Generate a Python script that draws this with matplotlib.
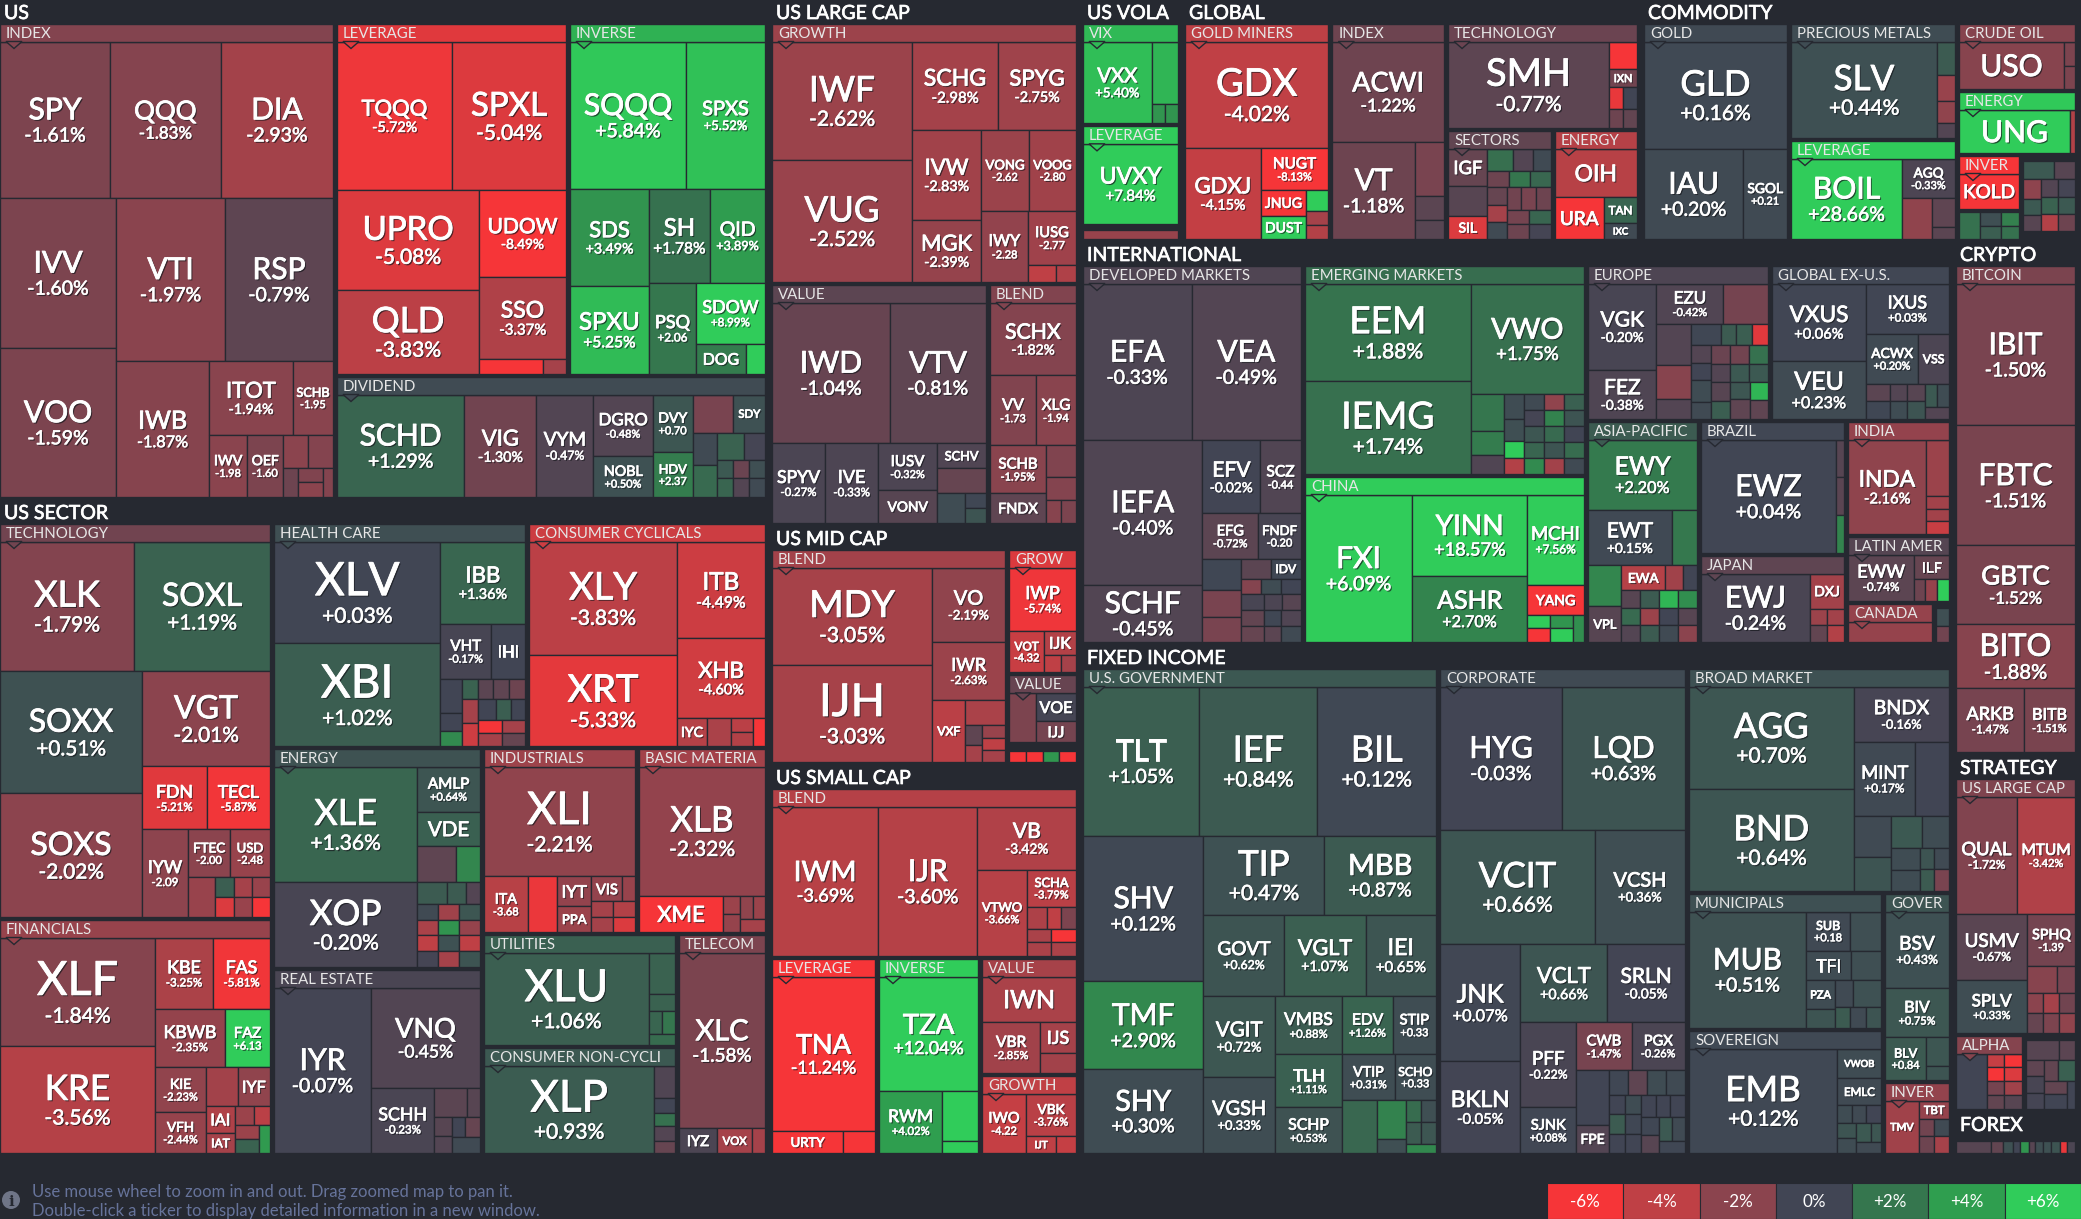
# -*- coding: utf-8 -*-
"""ETF map: nested treemap, cells laid out with squarify from their sizes."""
import numpy as np
import matplotlib
matplotlib.use('Agg')
import matplotlib.pyplot as plt
from matplotlib.font_manager import FontProperties
from matplotlib.patches import Rectangle, Polygon, Circle
from matplotlib.textpath import TextPath
import matplotlib.patheffects as pe

BG = '#262931'
FONT = 'Lato'

# T = tickers, S = size of the fund on the map, C = change in percent
US_INDEX_T = ['SPY', 'QQQ', 'DIA', 'IVV', 'VOO', 'VTI', 'RSP', 'IWB', 'ITOT', 'SCHB', 'IWV', 'OEF'] + [''] * 6
US_INDEX_S = [17160, 17300, 17500, 17400, 17280, 17770, 17600, 12650, 6200, 2960, 2360, 2230, 825, 825, 430, 350, 370, 300]
US_INDEX_C = [-1.61, -1.83, -2.93, -1.60, -1.59, -1.97, -0.79, -1.87, -1.94, -1.95, -1.98, -1.60, -2.0, -1.8, -1.2, -1.7, -2.0, -1.8]
US_LEV_T = ['TQQQ', 'SPXL', 'UPRO', 'QLD', 'UDOW', 'SSO', '', '']
US_LEV_S = [17020, 16870, 14060, 11930, 7480, 7130, 960, 345]
US_LEV_C = [-5.72, -5.04, -5.08, -3.83, -8.49, -3.37, -6.5, -3.0]
US_INV_T = ['SQQQ', 'SPXS', 'SDS', 'SPXU', 'SH', 'QID', 'PSQ', 'SDOW', 'DOG', '']
US_INV_S = [17050, 11600, 7580, 6950, 5670, 5115, 4280, 4210, 1500, 570]
US_INV_C = [5.84, 5.52, 3.49, 5.25, 1.78, 3.89, 2.06, 8.99, 2.3, 7.0]
US_DIV_T = ['SCHD', 'VIG', 'VYM', 'DGRO', 'NOBL', 'DVY', 'HDV', '', 'SDY'] + [''] * 10
US_DIV_S = [13080, 7416, 5870, 3660, 2420, 2320, 1800, 1560, 1216, 790, 770, 730, 570, 300, 300, 300, 300, 300, 300]
US_DIV_C = [1.29, -1.30, -0.47, -0.48, 0.50, 0.70, 2.37, -1.5, 0.5, 0.2, 1.5, 1.2, -0.1, 0.8, 1.3, -1.1, 0.4, -0.5, 0.2]

SEC_TECH_T = ['XLK', 'SOXL', 'SOXX', 'SOXS', 'VGT', 'FDN', 'TECL', 'IYW', 'FTEC', 'USD'] + [''] * 7
SEC_TECH_S = [17350, 17600, 17470, 17600, 12290, 4100, 3970, 4050, 2016, 1920, 1080, 380, 380, 360, 360, 350, 350]
SEC_TECH_C = [-1.79, 1.19, 0.51, -2.02, -2.01, -5.21, -5.87, -2.09, -2.00, -2.48, -2.5, 1.0, -5.0, -3.0, -2.5, -2.5, -6.5]
SEC_FIN_T = ['XLF', 'KRE', 'KBE', 'FAS', 'KBWB', 'FAZ', 'KIE', 'VFH', '', 'IYF', 'IAI', 'IAT'] + [''] * 5
SEC_FIN_S = [16900, 16600, 4180, 4100, 4060, 2610, 2300, 2090, 1250, 1250, 780, 580, 360, 304, 340, 340, 310]
SEC_FIN_C = [-1.84, -3.56, -3.25, -5.81, -2.35, 6.13, -2.23, -2.44, -2.9, -2.2, -3.4, -3.0, -2.6, -3.8, -2.6, 1.2, 3.8]
SEC_HC_T = ['XLV', 'XBI', 'IBB', 'VHT', 'IHI'] + [''] * 16
SEC_HC_S = [16770, 16930, 6885, 2750, 1840, 735, 378, 315, 320, 320, 320, 320, 380, 380, 380, 300, 300, 300, 300, 300, 300]
SEC_HC_C = [0.03, 1.02, 1.36, -0.17, 0.0, 0.0, 0.0, 3.0, 1.2, -0.7, -0.8, -1.2, -3.0, -4.5, 0.0, 1.0, 0.0, -6.0, -3.0, -3.0, -1.0]
SEC_CC_T = ['XLY', 'XRT', 'ITB', 'XHB', 'IYC', '', '', '', '']
SEC_CC_S = [16720, 13320, 8450, 6950, 840, 670, 310, 310, 336]
SEC_CC_C = [-3.83, -5.33, -4.49, -4.60, -3.6, -3.2, -3.8, -3.5, -6.0]
SEC_EN_T = ['XLE', 'XOP', 'AMLP', 'VDE'] + [''] * 17
SEC_EN_S = [16590, 12155, 2835, 2142, 1400, 860, 660, 420, 310, 330, 330, 330, 330, 330, 330, 330, 330, 330, 330, 330, 330]
SEC_EN_C = [1.36, -0.20, 0.64, 1.1, -0.8, 2.8, 0.9, 0.9, -0.5, 0.2, -2.8, 0.7, -3.2, -4.0, -0.1, 3.5, -2.4, 0.5, -3.0, -4.0, 0.6]
SEC_RE_T = ['IYR', 'VNQ', 'SCHH'] + [''] * 7
SEC_RE_S = [16000, 10900, 4095, 930, 380, 340, 306, 250, 290, 450]
SEC_RE_C = [-0.07, -0.45, -0.23, -0.7, -0.6, -0.6, -0.5, 0.0, -1.0, 0.2]
SEC_IND_T = ['XLI', 'ITA', '', 'IYT', 'PPA', 'VIS', '', '', '', '', '']
SEC_IND_S = [16460, 2400, 1620, 1020, 880, 770, 310, 330, 330, 330, 330]
SEC_IND_C = [-2.21, -3.68, -5.6, -2.3, -2.6, -2.3, -2.5, -3.0, -3.0, -3.5, -5.0]
SEC_MAT_T = ['XLB', 'XME', '', '', '', '', '']
SEC_MAT_S = [16130, 3030, 320, 310, 300, 280, 312]
SEC_MAT_C = [-2.32, -6.4, -2.6, -2.4, -2.2, -2.6, -3.0]
SEC_UT_T = ['XLU', '', '', '', '', '']
SEC_UT_S = [15090, 1100, 430, 300, 300, 300]
SEC_UT_C = [1.06, 1.2, 1.2, 1.3, 2.0, 1.6]
SEC_CN_T = ['XLP', '', '', '', '', '']
SEC_CN_S = [14790, 670, 315, 270, 315, 250]
SEC_CN_C = [0.93, -0.4, 0.0, 1.8, -0.5, -1.0]
SEC_TEL_T = ['XLC', 'IYZ', 'VOX', '']
SEC_TEL_S = [14790, 910, 840, 310]
SEC_TEL_C = [-1.58, -0.3, -3.0, -3.0]

LC_GR_T = ['IWF', 'VUG', 'SCHG', 'SPYG', 'IVW', 'MGK', 'VONG', 'VOOG', 'IWY', 'IUSG', '', '']
LC_GR_S = [16520, 16940, 7570, 6860, 6140, 4280, 3840, 3760, 3340, 2590, 476, 340]
LC_GR_C = [-2.62, -2.52, -2.98, -2.75, -2.83, -2.39, -2.62, -2.80, -2.28, -2.77, -4.0, -3.4]
LC_VA_T = ['IWD', 'VTV', 'SPYV', 'IVE', 'IUSV', 'VONV', 'SCHV', '', '', '', '']
LC_VA_S = [16640, 13536, 4240, 4240, 2770, 1950, 1225, 1220, 840, 312, 312]
LC_VA_C = [-1.04, -0.81, -0.27, -0.33, -0.32, -0.6, -0.4, -1.0, 0.3, 0.1, 0.6]
LC_BL_T = ['SCHX', 'VV', 'XLG', 'SCHB', 'FNDX', '', '', '', '']
LC_BL_S = [6280, 3220, 2800, 2690, 1680, 960, 690, 345, 345]
LC_BL_C = [-1.82, -1.73, -1.94, -1.95, -0.8, -1.7, -1.8, -1.9, -1.6]

MC_BL_T = ['MDY', 'IJH', 'VO', 'IWR', 'VXF'] + [''] * 6
MC_BL_S = [15680, 15680, 5475, 4234, 2080, 1000, 336, 272, 300, 300, 276]
MC_BL_C = [-3.05, -3.03, -2.19, -2.63, -3.8, -3.2, -0.8, -3.0, -2.5, -4.0, -3.0]
MC_GR_T = ['IWP', 'VOT', 'IJK', '', '']
MC_GR_S = [4288, 1470, 768, 306, 270]
MC_GR_C = [-5.74, -4.32, -3.5, -4.0, -3.0]
MC_VA_T = ['', 'VOE', 'IJJ']
MC_VA_S = [1350, 1160, 840]
MC_VA_C = [-1.6, -0.1, -1.4]
MC_OT_T = ['', '', '', '']
MC_OT_S = [200, 200, 200, 200]
MC_OT_C = [-6.3, -6.0, 3.6, -6.2]

SC_BL_T = ['IWM', 'IJR', 'VB', 'VTWO', 'SCHA'] + [''] * 7
SC_BL_S = [15690, 14650, 6140, 4214, 1800, 460, 300, 345, 300, 325, 320, 350]
SC_BL_C = [-3.69, -3.60, -3.42, -3.66, -3.79, -3.3, -4.0, -1.6, -3.2, -3.2, -6.0, -3.2]
SC_LEV_T = ['TNA', 'URTY', '']
SC_LEV_S = [15965, 1560, 700]
SC_LEV_C = [-11.24, -9.0, -8.0]
SC_INV_T = ['TZA', 'RWM', '', '']
SC_INV_S = [11385, 3906, 1764, 432]
SC_INV_C = [12.04, 4.02, 8.0, 7.0]
SC_VA_T = ['IWN', 'VBR', 'IJS', '']
SC_VA_S = [4230, 2960, 1116, 720]
SC_VA_C = [-3.2, -2.85, -3.0, -2.9]
SC_GR_T = ['IWO', 'VBK', 'IJT', '']
SC_GR_S = [2640, 2150, 510, 340]
SC_GR_C = [-4.22, -3.76, -4.0, -4.2]

VO_VIX_T = ['VXX', '', '', '']
VO_VIX_S = [5440, 1590, 250, 250]
VO_VIX_C = [5.40, 5.0, 3.5, 3.5]
VO_LEV_T = ['UVXY']
VO_LEV_S = [7050]
VO_LEV_C = [7.84]
VO_OT_T = ['']
VO_OT_S = [1130]
VO_OT_C = [-2.5]

GL_GM_T = ['GDX', 'GDXJ', 'NUGT', 'JNUG', 'DUST', '', '', '']
GL_GM_S = [15050, 6825, 2814, 1150, 1050, 462, 308, 308]
GL_GM_C = [-4.02, -4.15, -8.13, -6.5, 6.5, 7.0, -3.0, -3.5]
GL_IX_T = ['ACWI', 'VT', '', '', '']
GL_IX_S = [11100, 7950, 1566, 696, 551]
GL_IX_C = [-1.22, -1.18, -1.5, -0.7, -0.6]
GL_TE_T = ['SMH', '', 'IXN', '', '', '', '']
GL_TE_S = [13685, 756, 504, 294, 294, 266, 266]
GL_TE_C = [-0.77, -6.5, -1.3, -5.5, 0.0, -1.2, -0.9]
GL_SE_T = ['IGF', '', 'SIL'] + [''] * 16
GL_SE_S = [1368, 1080, 828, 540, 420, 380, 310, 310, 310, 310, 300, 300, 300, 300, 300, 300, 300, 300, 300]
GL_SE_C = [-1.0, -0.6, -5.0, 1.7, -0.5, 0.2, -1.2, 2.0, 1.4, -1.0, -3.0, 0.2, -1.3, -1.5, -1.2, -1.4, -1.2, 1.3, -0.1]
GL_EN_T = ['OIH', 'URA', 'TAN', 'IXC']
GL_EN_S = [4018, 2058, 858, 528]
GL_EN_C = [-3.7, -6.5, 1.3, 0.2]

CO_GO_T = ['GLD', 'IAU', 'SGOL']
CO_GO_S = [15250, 8910, 3915]
CO_GO_C = [0.16, 0.20, 0.21]
CO_PM_T = ['SLV', '', '', '', '']
CO_PM_S = [13870, 594, 468, 378, 270]
CO_PM_C = [0.44, 0.9, -2.5, -2.2, -0.5]
CO_LV_T = ['BOIL', 'AGQ', '', '', '']
CO_LV_S = [8990, 2120, 1230, 667, 276]
CO_LV_C = [28.66, -0.33, -2.2, -0.8, -0.7]
CO_CR_T = ['USO', '', '']
CO_CR_S = [4830, 264, 242]
CO_CR_C = [-1.9, -1.6, -1.6]
CO_EN_T = ['UNG', '']
CO_EN_S = [4884, 220]
CO_EN_C = [6.3, -3.5]
CO_IN_T = ['KOLD']
CO_IN_S = [2280]
CO_IN_C = [-6.5]
CO_O1_T = ['', '', '', '', '']
CO_O1_S = [567, 280, 280, 240, 240]
CO_O1_C = [1.8, 0.4, 1.0, 2.5, 1.8]
CO_O2_T = [''] * 11
CO_O2_S = [540, 360, 330, 270, 270, 280, 280, 280, 280, 280, 280]
CO_O2_C = [0.8, -0.6, -2.1, 0.8, -0.6, -0.5, -0.1, 1.2, 0.8, -3.5, -1.2]

IN_DM_T = ['EFA', 'VEA', 'IEFA', 'SCHF', 'EFV', 'SCZ', 'EFG', 'FNDF', '', '', '', '', 'IDV'] + [''] * 12
IN_DM_S = [16960, 17100, 17180, 6830, 4190, 2980, 2510, 1936, 1190, 1040, 970, 590, 610, 300, 300, 300, 360, 360, 360, 300, 300, 280, 280, 320, 320]
IN_DM_C = [-0.33, -0.49, -0.40, -0.45, -0.02, -0.44, -0.72, -0.20, 0.1, -1.5, -1.5, -0.7, 0.1, -1.8, 0.3, 0.0, -0.2, -0.9, -1.0, -0.3, -0.6, 0.1, -0.7, -0.4, 0.2]
IN_EM_T = ['EEM', 'IEMG', 'VWO'] + [''] * 22
IN_EM_S = [16170, 15345, 12540, 1200, 825, 620, 480, 440, 320] + [320] * 16
IN_EM_C = [1.88, 1.74, 1.75, 2.0, 2.3, -0.4, 0.3, 0.4, 6.0, -3.5, 0.2, -2.2, 1.1, -0.1, 2.6, 0.6, 0.7, 1.3, 3.0, 1.5, 0.0, 0.6, -2.9, 1.6, 0.2]
IN_CH_T = ['FXI', 'YINN', 'ASHR', 'MCHI', 'YANG', '', '', '', '', '']
IN_CH_S = [15940, 9430, 7700, 5190, 1710, 310, 310, 310, 310, 308]
IN_CH_C = [6.09, 18.57, 2.70, 7.56, -18.0, 6.5, -6.5, 3.5, 6.0, 3.2]
IN_EU_T = ['VGK', 'FEZ', 'EZU'] + [''] * 24
IN_EU_S = [5500, 3140, 2500, 1680, 1344, 1100, 650, 594, 320, 320, 320, 320, 320, 414, 320, 320, 320, 320, 320, 320, 320, 320, 320, 320, 360, 320, 320]
IN_EU_C = [-0.20, -0.38, -0.42, -1.4, -0.5, -1.9, -0.5, 0.1, 0.9, 1.0, -5.2, -0.5, 0.0, 0.3, 0.2, -1.1, -1.3, 1.8, -0.5, -0.6, 1.0, 0.8, 0.8, 0.7, -0.8, 5.0, -0.8]
IN_GX_T = ['VXUS', 'VEU', 'IXUS', 'ACWX', 'VSS'] + [''] * 9
IN_GX_S = [7240, 5450, 4150, 2600, 1550, 418, 418, 300, 300, 320, 320, 276, 276, 275]
IN_GX_C = [0.06, 0.23, 0.03, 0.20, -0.3, -0.7, 0.1, -0.5, 0.3, -0.6, 0.6, 0.8, 0.3, -0.5]
IN_AS_T = ['EWY', 'EWT', '', '', 'VPL', 'EWA'] + [''] * 14
IN_AS_S = [7560, 4565, 1375, 1344, 1184, 1075, 450, 350] + [320] * 12
IN_AS_C = [2.20, 0.15, 2.1, 2.8, -0.6, -3.6, -2.8, 0.0, -0.6, 1.5, -0.5, 0.9, -2.6, 0.9, 5.0, 3.2, 0.0, 0.2, -0.6, -2.0]
IN_BR_T = ['EWZ', '', '', '']
IN_BR_S = [15255, 304, 304, 304]
IN_BR_C = [0.04, -0.6, -0.7, 2.7]
IN_JP_T = ['EWJ', 'DXJ', '', '', '', '']
IN_JP_S = [7630, 1224, 290, 290, 290, 290]
IN_JP_C = [-0.24, -2.9, -2.6, -0.9, -2.9, -3.5]
IN_IN_T = ['INDA', '', '', '', '']
IN_IN_S = [7410, 1311, 300, 276, 300]
IN_IN_C = [-2.16, -2.6, -2.9, -2.9, -4.3]
IN_LA_T = ['EWW', 'ILF', '', '', '']
IN_LA_S = [2970, 840, 231, 250, 250]
IN_LA_C = [-0.74, -1.0, -1.2, -2.4, 6.0]
IN_CA_T = ['']
IN_CA_S = [1848]
IN_CA_C = [-2.4]
IN_OT_T = ['', '']
IN_OT_S = [221, 208]
IN_OT_C = [0.4, -1.3]

FI_GV_T = ['TLT', 'IEF', 'BIL', 'SHV', 'TMF', 'SHY', 'TIP', 'MBB', 'GOVT', 'VGLT', 'IEI', 'VGIT', 'VGSH', 'VMBS', 'TLH',
           'SCHP', 'EDV', 'STIP', 'VTIP', 'SCHO'] + [''] * 8
FI_GV_S = [17280, 17580, 17670, 17520, 10560, 10080, 9560, 8820, 6560, 6560, 5700, 5820, 5400, 3950, 3550, 3080, 2960,
           2530, 2385, 1890, 1815, 1160, 406, 330, 330, 330, 330, 261]
FI_GV_C = [1.05, 0.84, 0.12, 0.12, 2.90, 0.30, 0.47, 0.87, 0.62, 1.07, 0.65, 0.72, 0.33, 0.88, 1.11, 0.53, 1.26, 0.33,
           0.31, 0.33, 1.4, 2.6, 0.4, 1.6, 0.4, 0.9, 0.7, 2.9]
FI_CO_T = ['HYG', 'LQD', 'VCIT', 'VCSH', 'JNK', 'BKLN', 'VCLT', 'SRLN', 'PFF', 'SJNK', 'CWB', 'PGX', '', 'FPE'] + [''] * 18
FI_CO_S = [17450, 17590, 17670, 10260, 9440, 7360, 6790, 6080, 4730, 2530, 2632, 2538, 1790, 928, 480, 480, 480, 480,
           315, 315, 315, 315, 315, 315, 315, 315, 315, 315, 315, 315, 315, 315]
FI_CO_C = [-0.03, 0.63, 0.66, 0.36, 0.07, -0.05, 0.66, -0.05, -0.22, 0.08, -1.47, -0.26, 0.0, -0.5, 0.1, -0.8, 0.3, 0.2,
           0.0, 0.9, 0.0, 0.3, 0.1, 0.0, 0.0, 0.0, 0.0, 0.1, -0.6, 0.8, 0.2, 0.1]
FI_BM_T = ['AGG', 'BND', 'BNDX', 'MINT'] + [''] * 11
FI_BM_S = [16520, 16520, 5190, 4410, 2450, 1500, 1260, 960, 870, 620, 580, 310, 310, 310, 310]
FI_BM_C = [0.70, 0.64, -0.16, 0.17, 0.0, 0.2, 0.6, 0.8, 0.3, 0.3, 0.3, 0.6, 0.2, 0.9, -1.5]
FI_MU_T = ['MUB', 'SUB', '', 'TFI', '', 'PZA', '', '', '', '', '', '']
FI_MU_S = [13570, 1716, 1209, 1305, 870, 850, 550, 475, 780, 300, 345, 300]
FI_MU_C = [0.51, 0.18, 0.4, 0.3, 0.4, 0.3, 0.6, 0.2, 0.5, 0.9, 0.2, 0.6]
FI_SO_T = ['EMB', 'VWOB', 'EMLC'] + [''] * 8
FI_SO_S = [15330, 1288, 1150, 255, 255, 255, 280, 280, 280, 180, 280]
FI_SO_C = [0.12, 0.3, 0.2, 0.3, 0.2, 0.0, 0.6, 0.3, 0.8, 0.7, 0.2]
FI_GO_T = ['BSV', 'BIV', 'BLV', '', '']
FI_GO_S = [4928, 3136, 1763, 667, 322]
FI_GO_C = [0.43, 0.75, 0.84, 0.7, 0.6]
FI_IN_T = ['TMV', 'TBT', '', '', '', '']
FI_IN_S = [1802, 570, 255, 255, 255, 255]
FI_IN_C = [-2.8, -2.4, -1.3, 0.2, -1.2, -3.0]

CR_BT_T = ['IBIT', 'FBTC', 'GBTC', 'BITO', 'ARKB', 'BITB']
CR_BT_S = [16900, 14280, 9400, 7616, 4350, 3264]
CR_BT_C = [-1.50, -1.51, -1.52, -1.88, -1.47, -1.51]

ST_LC_T = ['QUAL', 'MTUM', 'USMV', 'SPLV', 'SPHQ'] + [''] * 8
ST_LC_S = [7140, 6786, 4690, 3760, 2448, 810, 486, 315, 315, 315, 315, 315, 315]
ST_LC_C = [-1.72, -3.42, -0.67, 0.33, -1.39, -1.9, -1.5, -2.0, -1.0, -3.0, -1.3, -1.6, -2.2]
ST_AL_T = [''] * 9
ST_AL_S = [1650, 240, 240, 240, 240, 240, 240, 240, 240]
ST_AL_C = [0.0, -4.2, -6.0, -6.5, -5.0, -1.4, -0.9, -2.8, -0.6]
ST_OT_T = [''] * 10
ST_OT_S = [608, 300, 270, 270, 270, 270, 330, 270, 330, 200]
ST_OT_C = [-0.6, -0.7, -0.8, -0.2, -0.1, -0.9, 1.1, -0.9, 0.0, 0.0]
FX_T = [''] * 11
FX_S = [360, 120, 96, 72, 96, 60, 84, 84, 84, 72, 84]
FX_C = [-0.6, -0.9, 0.5, 0.0, 3.5, -0.6, 0.4, 0.5, 0.6, -5.5, -0.3]

LEGEND_LABELS = ['-6%', '-4%', '-2%', '0%', '+2%', '+4%', '+6%']
LEGEND_VALUES = [-6, -4, -2, 0, 2, 4, 6]
HELP_LINES = ['Use mouse wheel to zoom in and out. Drag zoomed map to pan it.',
              'Double-click a ticker to display detailed information in a new window.']

# funds shown without a change figure
NO_CHANGE = {'DOG', 'SDY', 'VDE', 'IHI', 'IYF', 'IAI', 'IAT', 'IYC', 'IYT', 'PPA', 'VIS', 'XME', 'IYZ', 'VOX', 'SCHV',
             'VONV', 'FNDX', 'VXF', 'VOE', 'IJJ', 'IJK', 'URTY', 'IWN', 'IJS', 'IJT', 'IXN', 'IGF', 'SIL', 'OIH', 'URA',
             'TAN', 'IXC', 'JNUG', 'DUST', 'USO', 'UNG', 'KOLD', 'IDV', 'YANG', 'VSS', 'EWA', 'VPL', 'DXJ', 'ILF', 'VWOB',
             'EMLC', 'TFI', 'PZA', 'FPE', 'TBT', 'TMV'}
# ticker sizes in px where the map draws them bigger or smaller than the general rule
TICKER_PX = {'XLV': 46, 'XBI': 46, 'XLF': 47, 'XLU': 44, 'XLP': 44, 'XLI': 45, 'XLY': 38, 'XRT': 38, 'XLB': 35, 'XLE': 36,
             'XOP': 35, 'XLK': 36, 'SOXL': 32, 'SOXX': 32, 'SOXS': 32, 'VGT': 32, 'KRE': 35, 'IWF': 35, 'VUG': 35,
             'MDY': 37, 'IJH': 45, 'IEF': 36, 'BIL': 36, 'VCIT': 35, 'AGG': 35, 'BND': 35, 'EMB': 35, 'GLD': 35, 'SLV': 35,
             'EEM': 37, 'IEMG': 37, 'SMH': 38, 'GDX': 38, 'TIP': 35, 'SPXL': 33, 'QLD': 35, 'UPRO': 33, 'QQQ': 26,
             'TQQQ': 22, 'IWB': 25, 'ITOT': 22, 'SSO': 23, 'UDOW': 21, 'VIG': 22, 'VYM': 19, 'SPXS': 20, 'SPXU': 24,
             'SDS': 22, 'SH': 24, 'GBTC': 26, 'YINN': 28, 'TNA': 27, 'IWM': 28, 'XLC': 29, 'ACWI': 27, 'GOVT': 19,
             'SCHD': 30, 'VT': 30, 'TMF': 30, 'SHY': 29, 'IAU': 30, 'BOIL': 30, 'BITO': 31, 'EWJ': 30, 'SCHF': 30,
             'MGK': 22, 'IVW': 22, 'MBB': 29, 'IEI': 23, 'EWY': 25, 'VEU': 25, 'EFV': 21, 'ASHR': 25, 'VGK': 21, 'FEZ': 21,
             'EZU': 17, 'EWT': 21, 'EWW': 18, 'USO': 30, 'UNG': 30, 'XME': 22, 'OIH': 23, 'VCSH': 20, 'IHI': 16,
             'KOLD': 19, 'JNUG': 14, 'DUST': 14, 'URA': 19, 'IJS': 18, 'IJK': 16, 'IJJ': 15, 'VOE': 16, 'IWN': 25}
# rows the map lays out differently from the plain squarify choice
FIXED_ROWS = {'sc_va': [1], 'st_lc': [2], 'fi_bm': [2, 1, 2]}

# block key: (header, tickers, sizes, changes, block size)
BLOCKS = {
    'us_index': ('INDEX', US_INDEX_T, US_INDEX_S, US_INDEX_C, 160412),
    'us_lev': ('LEVERAGE', US_LEV_T, US_LEV_S, US_LEV_C, 82249),
    'us_inv': ('INVERSE', US_INV_T, US_INV_S, US_INV_C, 70247),
    'us_div': ('DIVIDEND', US_DIV_T, US_DIV_S, US_DIV_C, 53136),
    'sec_tech': ('TECHNOLOGY', SEC_TECH_T, SEC_TECH_S, SEC_TECH_C, 108500),
    'sec_fin': ('FINANCIALS', SEC_FIN_T, SEC_FIN_S, SEC_FIN_C, 64660),
    'sec_hc': ('HEALTH CARE', SEC_HC_T, SEC_HC_S, SEC_HC_C, 57375),
    'sec_cc': ('CONSUMER CYCLICALS', SEC_CC_T, SEC_CC_S, SEC_CC_C, 54000),
    'sec_en': ('ENERGY', SEC_EN_T, SEC_EN_S, SEC_EN_C, 46410),
    'sec_re': ('REAL ESTATE', SEC_RE_T, SEC_RE_S, SEC_RE_C, 39060),
    'sec_ind': ('INDUSTRIALS', SEC_IND_T, SEC_IND_S, SEC_IND_C, 28830),
    'sec_mat': ('BASIC MATERIA', SEC_MAT_T, SEC_MAT_S, SEC_MAT_C, 24180),
    'sec_ut': ('UTILITIES', SEC_UT_T, SEC_UT_S, SEC_UT_C, 22035),
    'sec_cn': ('CONSUMER NON-CYCLI', SEC_CN_T, SEC_CN_S, SEC_CN_C, 21060),
    'sec_tel': ('TELECOM', SEC_TEL_T, SEC_TEL_S, SEC_TEL_C, 19890),
    'lc_gr': ('GROWTH', LC_GR_T, LC_GR_S, LC_GR_C, 80388),
    'lc_va': ('VALUE', LC_VA_T, LC_VA_S, LC_VA_C, 52538),
    'lc_bl': ('BLEND', LC_BL_T, LC_BL_S, LC_BL_C, 21690),
    'mc_bl': ('BLEND', MC_BL_T, MC_BL_S, MC_BL_C, 51192),
    'mc_gr': ('GROW', MC_GR_T, MC_GR_S, MC_GR_C, 8946),
    'mc_va': ('VALUE', MC_VA_T, MC_VA_S, MC_VA_C, 4970),
    'mc_ot': ('', MC_OT_T, MC_OT_S, MC_OT_C, 1420),
    'sc_bl': ('BLEND', SC_BL_T, SC_BL_S, SC_BL_C, 52360),
    'sc_lev': ('LEVERAGE', SC_LEV_T, SC_LEV_S, SC_LEV_C, 21079),
    'sc_inv': ('INVERSE', SC_INV_T, SC_INV_S, SC_INV_C, 20291),
    'sc_va': ('VALUE', SC_VA_T, SC_VA_S, SC_VA_C, 11466),
    'sc_gr': ('GROWTH', SC_GR_T, SC_GR_S, SC_GR_C, 7840),
    'vo_vix': ('VIX', VO_VIX_T, VO_VIX_S, VO_VIX_C, 10000),
    'vo_lev': ('LEVERAGE', VO_LEV_T, VO_LEV_S, VO_LEV_C, 9800),
    'vo_ot': ('', VO_OT_T, VO_OT_S, VO_OT_C, 1500),
    'gl_gm': ('GOLD MINERS', GL_GM_T, GL_GM_S, GL_GM_C, 32046),
    'gl_ix': ('INDEX', GL_IX_T, GL_IX_S, GL_IX_C, 25179),
    'gl_te': ('TECHNOLOGY', GL_TE_T, GL_TE_S, GL_TE_C, 20600),
    'gl_se': ('SECTORS', GL_SE_T, GL_SE_S, GL_SE_C, 11820),
    'gl_en': ('ENERGY', GL_EN_T, GL_EN_S, GL_EN_C, 9546),
    'co_go': ('GOLD', CO_GO_T, CO_GO_S, CO_GO_C, 32046),
    'co_pm': ('PRECIOUS METALS', CO_PM_T, CO_PM_S, CO_PM_C, 19656),
    'co_lv': ('LEVERAGE', CO_LV_T, CO_LV_S, CO_LV_C, 16968),
    'co_cr': ('CRUDE OIL', CO_CR_T, CO_CR_S, CO_CR_C, 8160),
    'co_en': ('ENERGY', CO_EN_T, CO_EN_S, CO_EN_C, 7680),
    'co_in': ('INVER', CO_IN_T, CO_IN_S, CO_IN_C, 3584),
    'co_o1': ('', CO_O1_T, CO_O1_S, CO_O1_C, 1920),
    'co_o2': ('', CO_O2_T, CO_O2_S, CO_O2_C, 4816),
    'in_dm': ('DEVELOPED MARKETS', IN_DM_T, IN_DM_S, IN_DM_C, 84138),
    'in_em': ('EMERGING MARKETS', IN_EM_T, IN_EM_S, IN_EM_C, 59713),
    'in_ch': ('CHINA', IN_CH_T, IN_CH_S, IN_CH_C, 47544),
    'in_eu': ('EUROPE', IN_EU_T, IN_EU_S, IN_EU_C, 28704),
    'in_gx': ('GLOBAL EX-U.S.', IN_GX_T, IN_GX_S, IN_GX_C, 28236),
    'in_as': ('ASIA-PACIFIC', IN_AS_T, IN_AS_S, IN_AS_C, 25199),
    'in_br': ('BRAZIL', IN_BR_T, IN_BR_S, IN_BR_C, 19698),
    'in_jp': ('JAPAN', IN_JP_T, IN_JP_S, IN_JP_C, 13083),
    'in_in': ('INDIA', IN_IN_T, IN_IN_S, IN_IN_C, 12075),
    'in_la': ('LATIN AMER', IN_LA_T, IN_LA_S, IN_LA_C, 7035),
    'in_ca': ('CANADA', IN_CA_T, IN_CA_S, IN_CA_C, 3608),
    'in_ot': ('', IN_OT_T, IN_OT_S, IN_OT_C, 697),
    'fi_gv': ('U.S. GOVERNMENT', FI_GV_T, FI_GV_S, FI_GV_C, 173859),
    'fi_co': ('CORPORATE', FI_CO_T, FI_CO_S, FI_CO_C, 121263),
    'fi_bm': ('BROAD MARKET', FI_BM_T, FI_BM_S, FI_BM_C, 59400),
    'fi_mu': ('MUNICIPALS', FI_MU_T, FI_MU_S, FI_MU_C, 26852),
    'fi_so': ('SOVEREIGN', FI_SO_T, FI_SO_S, FI_SO_C, 24500),
    'fi_go': ('GOVER', FI_GO_T, FI_GO_S, FI_GO_C, 12852),
    'fi_in': ('INVER', FI_IN_T, FI_IN_S, FI_IN_C, 4964),
    'cr_bt': ('BITCOIN', CR_BT_T, CR_BT_S, CR_BT_C, 60000),
    'st_lc': ('US LARGE CAP', ST_LC_T, ST_LC_S, ST_LC_C, 31611),
    'st_al': ('ALPHA', ST_AL_T, ST_AL_S, ST_AL_C, 5320),
    'st_ot': ('', ST_OT_T, ST_OT_S, ST_OT_C, 4028),
    'fx': ('', FX_T, FX_S, FX_C, 1000),
}
# blank strips above / below the blocks that have no header
INSET = {'co_o2': (5, 8), 'vo_ot': (3, 0), 'mc_ot': (6, 0), 'in_ot': (4, 0), 'st_ot': (4, 0), 'fx': (5, 0), 'co_o1': (0, 0)}

# top groups: (block size, how the blocks are sliced)
TOP = {
    'US': (386000, ('h', ['us_index', ('v', [('h', ['us_lev', 'us_inv']), 'us_div'])])),
    'US SECTOR': (506432, ('h', [('v', ['sec_tech', 'sec_fin']),
                                 ('v', [('h', ['sec_hc', 'sec_cc']),
                                        ('h', [('v', ['sec_en', 'sec_re']),
                                               ('v', [('h', ['sec_ind', 'sec_mat']),
                                                      ('h', [('v', ['sec_ut', 'sec_cn']), 'sec_tel'])])])])])),
    'US LARGE CAP': (163586, ('v', ['lc_gr', ('h', ['lc_va', 'lc_bl'])])),
    'US MID CAP': (74329, ('h', ['mc_bl', ('v', ['mc_gr', 'mc_va', 'mc_ot'])])),
    'US SMALL CAP': (121601, ('v', ['sc_bl', ('h', ['sc_lev', 'sc_inv', ('v', ['sc_va', 'sc_gr'])])])),
    'US VOLA': (24684, ('v', ['vo_vix', 'vo_lev', 'vo_ot'])),
    'GLOBAL': (111078, ('h', ['gl_gm', 'gl_ix', ('v', ['gl_te', ('h', ['gl_se', 'gl_en'])])])),
    'COMMODITY': (105996, ('h', ['co_go', ('v', ['co_pm', 'co_lv']),
                                 ('v', ['co_cr', 'co_en', ('h', [('v', ['co_in', 'co_o1']), 'co_o2'])])])),
    'INTERNATIONAL': (351819, ('h', ['in_dm', ('v', ['in_em', 'in_ch']),
                                     ('v', [('h', ['in_eu', 'in_gx']),
                                            ('h', ['in_as', ('v', ['in_br', 'in_jp']),
                                                   ('v', ['in_in', 'in_la', ('h', ['in_ca', 'in_ot'])])])])])),
    'FIXED INCOME': (446103, ('h', ['fi_gv', 'fi_co',
                                    ('v', ['fi_bm', ('h', [('v', ['fi_mu', 'fi_so']), ('v', ['fi_go', 'fi_in'])])])])),
    'CRYPTO': (64638, 'cr_bt'),
    'STRATEGY': (44982, ('v', ['st_lc', ('h', ['st_al', 'st_ot'])])),
    'FOREX': (5544, 'fx'),
}
PAGE = ('h', [('v', ['US', 'US SECTOR']), ('v', ['US LARGE CAP', 'US MID CAP', 'US SMALL CAP']),
              ('v', [('h', ['US VOLA', 'GLOBAL', 'COMMODITY']),
                     ('h', [('v', ['INTERNATIONAL', 'FIXED INCOME']), ('v', ['CRYPTO', 'STRATEGY', 'FOREX'])])])])

stops = [-6, -4, -2, 0, 2, 4, 6]
stop_cols = np.array([matplotlib.colors.to_rgb(c) for c in
                      ['#f63538', '#bf4045', '#8b444e', '#414554', '#35764e', '#2f9e4f', '#30cc5a']])


def change_colour(v):
    return tuple(np.interp(v, stops, stop_cols[:, i]) for i in range(3))


def node_size(node, sizes):
    if isinstance(node, str):
        return sizes(node)
    return sum(node_size(n, sizes) for n in node[1])


def slice_node(node, box, sizes, out):
    if isinstance(node, str):
        out[node] = box
        return
    x0, y0, x1, y1 = box
    weights = [node_size(n, sizes) for n in node[1]]
    total = sum(weights)
    pos = x0 if node[0] == 'h' else y0
    span = (x1 - x0) if node[0] == 'h' else (y1 - y0)
    for n, w in zip(node[1], weights):
        step = span * w / total
        if node[0] == 'h':
            slice_node(n, (pos, y0, pos + step, y1), sizes, out)
        else:
            slice_node(n, (x0, pos, x1, pos + step), sizes, out)
        pos += step


def worst(row, side):
    s = sum(row)
    return max(side * side * max(row) / (s * s), s * s / (side * side * min(row)))


def squarify(sizes, box, fixed=()):
    x0, y0, x1, y1 = box
    scale = (x1 - x0) * (y1 - y0) / float(sum(sizes))
    areas = [s * scale for s in sizes]
    fixed = list(fixed)
    rects = []
    i = 0
    while i < len(areas):
        w, h = x1 - x0, y1 - y0
        side = min(w, h)
        if fixed:
            n = fixed.pop(0)
            row = areas[i:i + n]
            i += n
        else:
            row = [areas[i]]
            i += 1
            while i < len(areas) and worst(row + [areas[i]], side) <= worst(row, side):
                row.append(areas[i])
                i += 1
        thick = sum(row) / side
        pos = y0 if w >= h else x0
        for a in row:
            step = a / thick
            if w >= h:
                rects.append((x0, pos, x0 + thick, pos + step))
            else:
                rects.append((pos, y0, pos + step, y0 + thick))
            pos += step
        if w >= h:
            x0 += thick
        else:
            y0 += thick
    return rects


def px(n):
    return n * 72.0 / 100


def effects(stroke):
    return [pe.SimplePatchShadow(offset=(1, -1), shadow_rgbFace='#15171c', alpha=0.7),
            pe.Stroke(linewidth=stroke, foreground='white'), pe.Normal()]


fp_text = FontProperties(family=FONT)


def text_em(s):
    return TextPath((0, 0), s, size=1, prop=fp_text).get_extents().width


def draw_label(ax, name, change, box):
    x0, y0, x1, y1 = box
    w, h = x1 - x0, y1 - y0
    cx, cy = (x0 + x1) / 2, (y0 + y1) / 2
    if name in NO_CHANGE:
        t = TICKER_PX.get(name, min(0.68 * w / text_em(name), 0.6 * h, 30))
        ax.text(cx, cy + 0.36 * t, name, color='white', fontsize=px(t), family=FONT,
                ha='center', va='baseline', path_effects=effects(0.6))
        return
    t = TICKER_PX.get(name, min(0.8 * w / text_em(name), 0.23 * np.sqrt(w * h) + 3, 30))
    label = '%+.2f' % change if w < 48 else '%+.2f%%' % change
    p = min(max(0.65 * t, min(t, 11)), 21)
    p = min(p, 0.92 * w / text_em(label))
    gap = max(0.27 * t, 2)
    total = 0.72 * t + gap + 0.72 * p
    ax.text(cx, cy - total / 2 + 0.72 * t, name, color='white', fontsize=px(t), family=FONT,
            ha='center', va='baseline', path_effects=effects(0.6))
    ax.text(cx, cy + total / 2, label, color='white', fontsize=px(p), family=FONT,
            ha='center', va='baseline', path_effects=effects(0.4))


def draw_block(ax, key, box):
    title, names, sizes, changes, _ = BLOCKS[key]
    x0, y0, x1, y1 = box
    x1 -= 4
    y1 -= 3
    if title:
        mean = np.average(changes, weights=sizes)
        col = change_colour(mean)
        ax.add_patch(Rectangle((x0, y0), x1 - x0, 17.5, fc=col, ec=BG, lw=1.0, zorder=3))
        ax.text(x0 + 6, y0 + 14, title, color='#e6e6e6', fontsize=px(15), family=FONT, ha='left', va='baseline', zorder=6)
        y0 += 17.5
        ax.add_patch(Polygon([(x0 + 6, y0), (x0 + 22, y0), (x0 + 14, y0 + 7)], closed=True, fc=col, ec=BG, lw=1.0, zorder=4))
    else:
        top, bottom = INSET.get(key, (0, 0))
        y0 += top
        y1 -= bottom
    rects = squarify(sizes, (x0, y0, x1, y1), FIXED_ROWS.get(key, ()))
    for name, change, rect in zip(names, changes, rects):
        ax.add_patch(Rectangle((rect[0], rect[1]), rect[2] - rect[0], rect[3] - rect[1],
                               fc=change_colour(change), ec=BG, lw=0.95, zorder=2))
        if name:
            draw_label(ax, name, change, rect)


fig = plt.figure(figsize=(20.81, 12.19), dpi=100, facecolor=BG)
ax = fig.add_axes([0, 0, 1, 1])
ax.set_xlim(0, 2081)
ax.set_ylim(1219, 0)
ax.axis('off')

top_boxes = {}
slice_node(PAGE, (-3, 0, 2079, 1156), lambda k: TOP[k][0], top_boxes)
for group, (_, tree) in TOP.items():
    x0, y0, x1, y1 = top_boxes[group]
    ax.text(x0 + 7, y0 + 19, group, color='white', fontsize=px(19.5), family=FONT,
            ha='left', va='baseline', zorder=6, path_effects=[pe.Stroke(linewidth=0.5, foreground='white'), pe.Normal()])
    block_boxes = {}
    slice_node(tree, (x0 + 3, y0 + 24, x1, y1), lambda k: BLOCKS[k][4], block_boxes)
    for key, box in block_boxes.items():
        draw_block(ax, key, box)

# footer
ax.add_patch(Circle((11, 1200), 9, fc='#6f7587', ec='none'))
ax.text(11, 1205.5, 'i', color=BG, fontsize=px(15), family='DejaVu Serif', weight='bold', ha='center', va='baseline')
for line, y in zip(HELP_LINES, [1197, 1216]):
    ax.text(32, y, line, color='#66739a', fontsize=px(16.6), family=FONT, ha='left', va='baseline')

box_w = (2081 - 1547) / float(len(LEGEND_VALUES))
for i, (v, lab) in enumerate(zip(LEGEND_VALUES, LEGEND_LABELS)):
    ax.add_patch(Rectangle((1547 + i * box_w, 1183), box_w, 36, fc=change_colour(v), ec=BG, lw=0.8))
    ax.text(1547 + (i + 0.5) * box_w, 1207, lab, color='white', fontsize=px(17), family=FONT, ha='center', va='baseline')

fig.savefig('out.png', dpi=100, facecolor=BG)
